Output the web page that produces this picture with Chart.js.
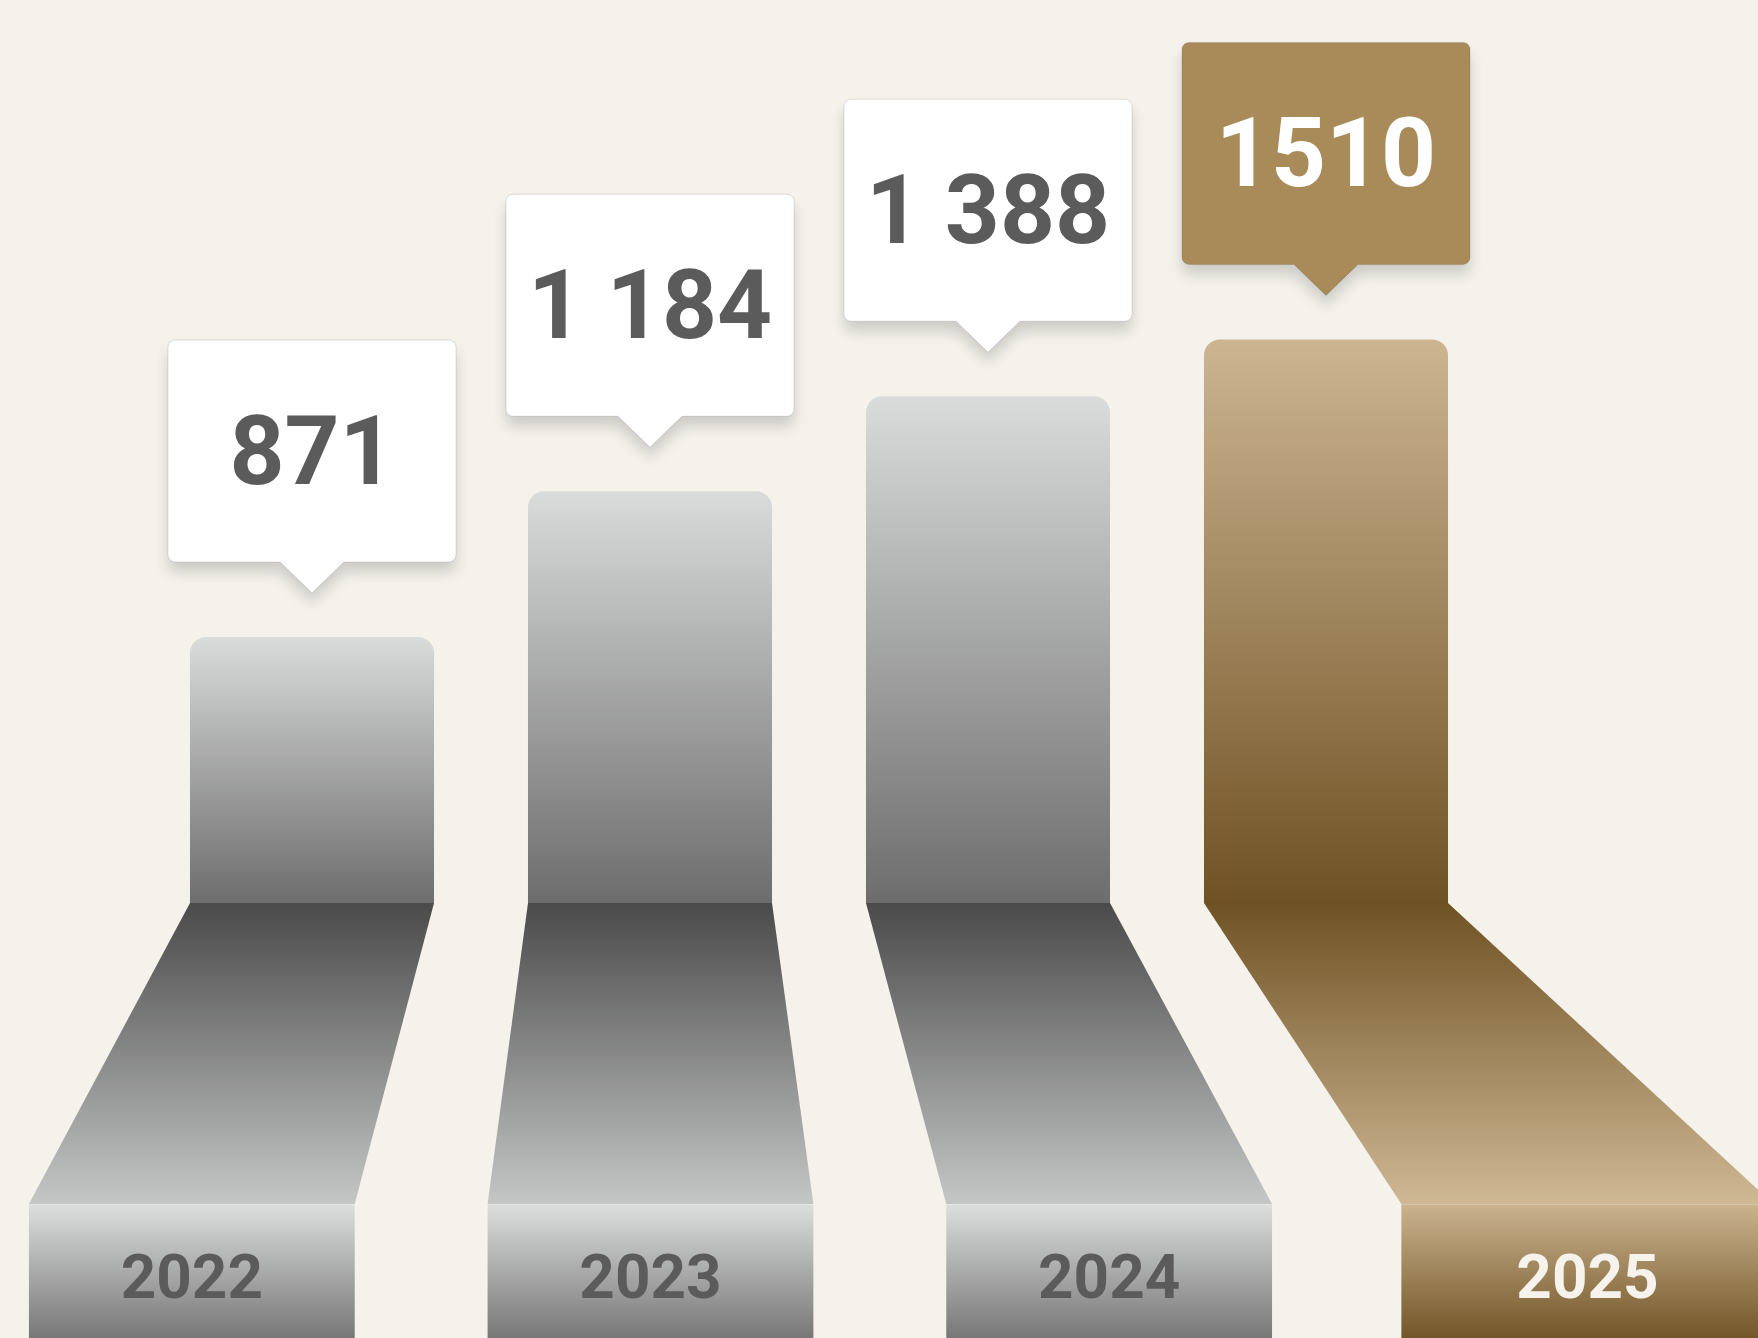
<!DOCTYPE html>
<html>
<head>
<meta charset="utf-8">
<title>Yearly totals</title>
<script src="https://cdn.jsdelivr.net/npm/chart.js@4.4.1/dist/chart.umd.min.js"></script>
<style>
  html, body { margin: 0; padding: 0; background: #f4f2eb; }
  #wrap { width: 1758px; height: 1338px; position: relative; }
</style>
</head>
<body>
<div id="wrap"><canvas id="yearsChart"></canvas></div>
<script>
// Data
const years = ['2022', '2023', '2024', '2025'];
const values = [871, 1184, 1388, 1510];
const valueLabels = ['871', '1 184', '1 388', '1510'];
const highlightYear = '2025';

// Palettes (gray for past years, gold for the highlighted one)
const GRAY = {
  barTop: '#dadbdb', barBottom: '#6d6d6d',
  rampTop: '#4a4a4a', rampBottom: '#c5c6c6',
  blockTop: '#dddede', blockBottom: '#777777',
  box: '#ffffff', boxText: '#5b5b5b', yearText: '#5b5b5b'
};
const GOLD = {
  barTop: '#cdb592', barBottom: '#6f5224',
  rampTop: '#6f5224', rampBottom: '#cfb894',
  blockTop: '#cbb38e', blockBottom: '#735629',
  box: '#a98b5a', boxText: '#ffffff', yearText: '#f6f3ec'
};

function paletteFor(i) {
  return years[i] === highlightYear ? GOLD : GRAY;
}

/**
 * Vertical gradient for each bar, from its top down to the baseline
 */
function barFill(context) {
  const chart = context.chart;
  const area = chart.chartArea;
  const pal = paletteFor(context.dataIndex);
  if (!area) return pal.barBottom;
  const top = chart.scales.y.getPixelForValue(context.raw);
  const g = chart.ctx.createLinearGradient(0, top, 0, area.bottom);
  g.addColorStop(0, pal.barTop);
  g.addColorStop(1, pal.barBottom);
  return g;
}

/**
 * Draws the perspective "floor" under each bar, the year blocks and the value callouts
 */
const perspectivePlugin = {
  id: 'perspective',
  afterDatasetsDraw(chart) {
    const ctx = chart.ctx;
    const area = chart.chartArea;
    const meta = chart.getDatasetMeta(0);
    const pivot = area.left + area.width * 0.374;
    const base = area.bottom;
    const rampBottom = base + 301;
    const blockBottom = chart.height + 6;

    meta.data.forEach((bar, i) => {
      const pal = paletteFor(i);
      const hi = years[i] === highlightYear;
      const half = bar.width / 2;
      const spread = hi ? 1.386 : 1.357;
      const widen = hi ? 1.525 : 1.335;
      const bx = pivot + (bar.x - pivot) * spread;
      const bHalf = bar.width * widen / 2;

      // ramp (trapezoid)
      ctx.save();
      let g = ctx.createLinearGradient(0, base, 0, rampBottom);
      g.addColorStop(0, pal.rampTop);
      g.addColorStop(1, pal.rampBottom);
      ctx.fillStyle = g;
      ctx.beginPath();
      ctx.moveTo(bar.x - half, base);
      ctx.lineTo(bar.x + half, base);
      ctx.lineTo(bx + bHalf, rampBottom);
      ctx.lineTo(bx - bHalf, rampBottom);
      ctx.closePath();
      ctx.fill();

      // year block
      g = ctx.createLinearGradient(0, rampBottom, 0, chart.height);
      g.addColorStop(0, pal.blockTop);
      g.addColorStop(1, pal.blockBottom);
      ctx.fillStyle = g;
      ctx.beginPath();
      ctx.roundRect(bx - bHalf, rampBottom, bHalf * 2, blockBottom - rampBottom, [0, 0, 6, 6]);
      ctx.fill();
      ctx.fillStyle = 'rgba(255,255,255,0.25)';
      ctx.fillRect(bx - bHalf, rampBottom, bHalf * 2, 1);

      ctx.fillStyle = pal.yearText;
      ctx.font = 'bold 62px Roboto';
      ctx.textAlign = 'center';
      ctx.textBaseline = 'alphabetic';
      ctx.fillText(years[i], bx, rampBottom + 94);
      ctx.restore();

      drawCallout(ctx, bar.x, bar.y - 44, pal, valueLabels[i]);
    });
  }
};

function drawCallout(ctx, cx, tipY, pal, text) {
  const w = 288, h = 222, r = 7, pw = 32, ph = 31;
  const bottom = tipY - ph;
  const top = bottom - h;
  const left = cx - w / 2;
  const right = left + w;

  ctx.save();
  ctx.beginPath();
  ctx.moveTo(left + r, top);
  ctx.lineTo(right - r, top);
  ctx.arcTo(right, top, right, top + r, r);
  ctx.lineTo(right, bottom - r);
  ctx.arcTo(right, bottom, right - r, bottom, r);
  ctx.lineTo(cx + pw, bottom);
  ctx.lineTo(cx, tipY);
  ctx.lineTo(cx - pw, bottom);
  ctx.lineTo(left + r, bottom);
  ctx.arcTo(left, bottom, left, bottom - r, r);
  ctx.lineTo(left, top + r);
  ctx.arcTo(left, top, left + r, top, r);
  ctx.closePath();

  ctx.shadowColor = 'rgba(0, 0, 0, 0.16)';
  ctx.shadowBlur = 14;
  ctx.shadowOffsetY = 10;
  ctx.fillStyle = pal.box;
  ctx.fill();
  ctx.shadowColor = 'transparent';
  ctx.strokeStyle = 'rgba(0, 0, 0, 0.12)';
  ctx.lineWidth = 1;
  ctx.stroke();

  ctx.fillStyle = pal.boxText;
  ctx.font = 'bold 96px Roboto';
  ctx.textAlign = 'center';
  ctx.textBaseline = 'alphabetic';
  ctx.fillText(text, cx, top + 144);
  ctx.restore();
}

function initChart() {
  const el = document.getElementById('yearsChart');
  new Chart(el, {
    type: 'bar',
    data: {
      labels: years,
      datasets: [{
        data: values,
        backgroundColor: barFill,
        borderWidth: 0,
        borderRadius: { topLeft: 16, topRight: 16, bottomLeft: 0, bottomRight: 0 },
        borderSkipped: false,
        categoryPercentage: 1,
        barPercentage: 0.722
      }]
    },
    options: {
      responsive: true,
      maintainAspectRatio: false,
      animation: false,
      events: [],
      layout: {
        padding: { top: 18, bottom: 435, left: 143, right: 263 }
      },
      plugins: {
        legend: { display: false },
        tooltip: { enabled: false }
      },
      scales: {
        x: { display: false },
        y: { display: false, min: 300, max: 2200 }
      }
    },
    plugins: [perspectivePlugin]
  });
}

document.fonts.load('bold 96px Roboto').then(initChart, initChart);
</script>
</body>
</html>
